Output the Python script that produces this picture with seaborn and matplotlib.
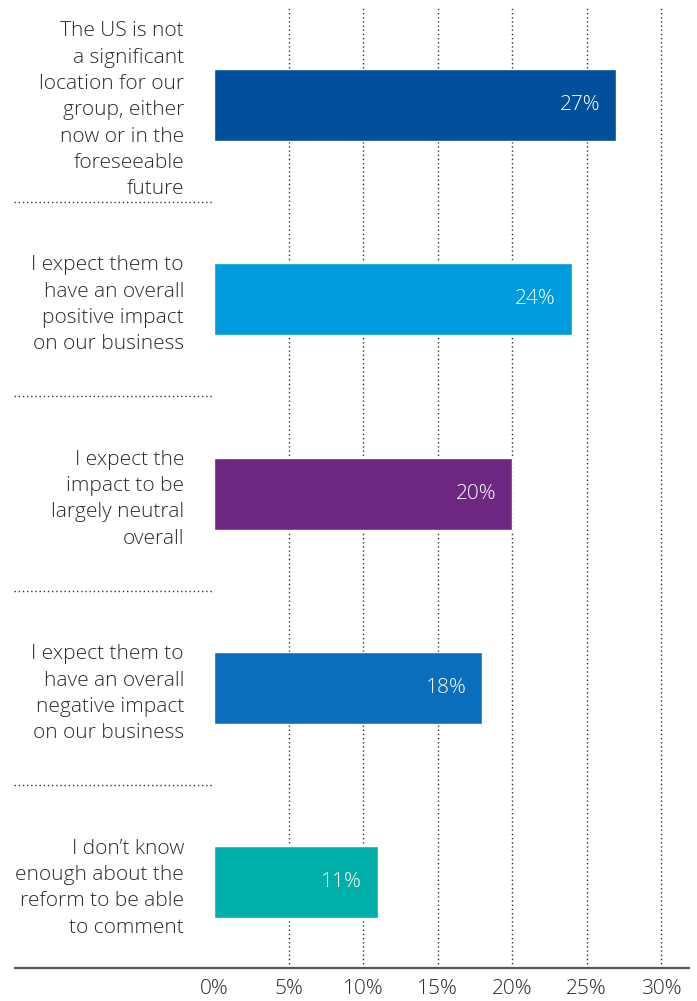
import matplotlib
matplotlib.use("Agg")
import matplotlib.pyplot as plt
import matplotlib.transforms as mtransforms
import seaborn as sns
import pandas as pd

categories = [
    "The US is not\na significant\nlocation for our\ngroup, either\nnow or in the\nforeseeable\nfuture",
    "I expect them to\nhave an overall\npositive impact\non our business",
    "I expect the\nimpact to be\nlargely neutral\noverall",
    "I expect them to\nhave an overall\nnegative impact\non our business",
    "I don\u2019t know\nenough about the\nreform to be able\nto comment",
]
values = [27, 24, 20, 18, 11]
colors = ["#00509B", "#009CDE", "#6D2780", "#0A6EBC", "#00AFA8"]
x_ticks = [0, 5, 10, 15, 20, 25, 30]
x_tick_labels = ["0%", "5%", "10%", "15%", "20%", "25%", "30%"]

sns.set_theme(style="white")
plt.rcParams["font.family"] = ["Open Sans", "DejaVu Sans"]

FS = 15
TXT = "#2b2b2b"

df = pd.DataFrame({"category": categories, "value": values})

fig = plt.figure(figsize=(6.97, 10.01), dpi=100)
ax = fig.add_axes([214 / 697, 33 / 1001, 476 / 697, 960.5 / 1001])

sns.barplot(data=df, x="value", y="category", hue="category",
            palette=colors, orient="h", width=0.37, legend=False,
            saturation=1, ax=ax)

ax.set_xlim(0, 476 / 14.9)
ax.set_ylim(4.44, -0.5)

# dotted vertical gridlines
for t in x_ticks[1:]:
    ax.axvline(t, color="#333333", lw=1.0, ls=(0, (1, 2)), zorder=0)

# value labels inside the bars
for i, v in enumerate(values):
    ax.text(v - 1.05, i, f"{v}%", ha="right", va="center", color="white",
            fontsize=FS, fontweight="light")

ax.set_xticks(x_ticks)
ax.set_xticklabels(x_tick_labels, fontsize=FS, color=TXT, fontweight="light")
ax.tick_params(axis="x", length=0, pad=8)
ax.tick_params(axis="y", length=0, pad=21.6)
for lbl in ax.get_yticklabels():
    lbl.set_fontsize(FS)
    lbl.set_color(TXT)
    lbl.set_fontweight("light")
    lbl.set_linespacing(1.42)
    lbl.set_multialignment("right")

ax.set_xlabel("")
ax.set_ylabel("")
for s in ax.spines.values():
    s.set_visible(False)

trans = mtransforms.blended_transform_factory(ax.transAxes, ax.transData)
left = (14 - 214) / 476
# dotted separators between category labels
for y in [0.5, 1.5, 2.5, 3.5]:
    ax.plot([left, 0], [y, y], transform=trans, color="#333333", lw=1.0,
            ls=(0, (1, 2)), clip_on=False)

# baseline
ax.plot([left, 1], [0, 0], transform=ax.transAxes, color="#555555", lw=1.6,
        clip_on=False, solid_capstyle="butt")

fig.savefig("out.png", dpi=100)
